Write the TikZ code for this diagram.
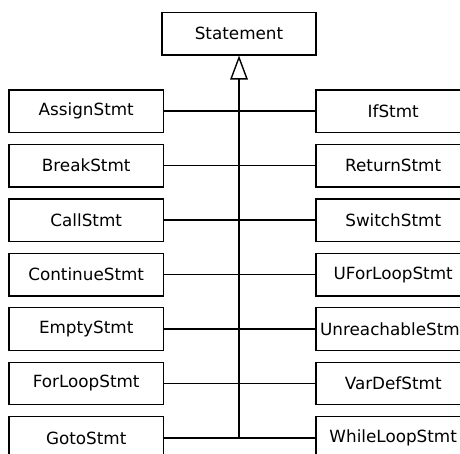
\documentclass[tikz,border=0pt]{standalone}
\usepackage{fontspec}
\setmainfont{DejaVu Sans}
\usetikzlibrary{arrows.meta}
\begin{document}
\begin{tikzpicture}[x=1pt,y=-1pt,
  cls/.style={draw, line width=1.4pt, minimum width=154.3pt, minimum height=42.5pt,
    inner sep=0pt, font=\fontsize{16.8}{20}\selectfont},
  link/.style={draw, line width=1.4pt}]
  \useasboundingbox (0,0) rectangle (460,454);
  \clip (0,0) rectangle (460,454);
  % base class
  \node[cls] (stmt) at (239,33.6) {Statement};
  % subclasses, two columns
  \foreach \i/\l/\r in {1/AssignStmt/IfStmt, 2/BreakStmt/ReturnStmt,
      3/CallStmt/SwitchStmt, 4/ContinueStmt/UForLoopStmt,
      5/EmptyStmt/UnreachableStmt, 6/ForLoopStmt/VarDefStmt,
      7/GotoStmt/WhileLoopStmt} {
    \pgfmathsetmacro\yy{111.2+54.45*(\i-1)}
    \node[cls] (l\i) at (86.2,\yy) {\l};
    \node[cls] (r\i) at (393.2,\yy) {\r};
    \draw[link] (l\i.east) -- (r\i.west);
  }
  % generalisation trunk
  \coordinate (j) at (239,{111.2+54.45*6});
  \draw[link, -{Triangle[open, length=24pt, width=17.6pt, line width=1.4pt]}] (j) -- (stmt.south);
\end{tikzpicture}
\end{document}
